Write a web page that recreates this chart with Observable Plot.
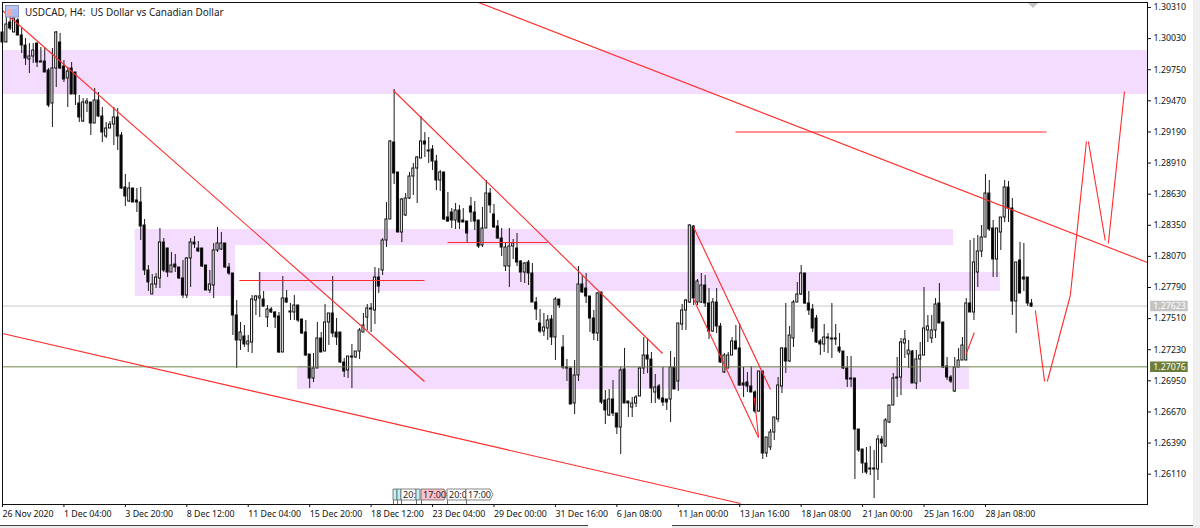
<!DOCTYPE html>
<html><head><meta charset="utf-8">
<script src="https://cdn.jsdelivr.net/npm/d3@7"></script>
<script src="https://cdn.jsdelivr.net/npm/@observablehq/plot@0.6"></script>
<style>
html,body{margin:0;padding:0;background:#fff;overflow:hidden}
#wrap{position:relative;width:1200px;height:528px;font-family:"Noto Sans",sans-serif}
#wrap svg.plot{display:block}
.title{position:absolute;left:25px;top:5px;font:9.95px "Noto Sans",sans-serif;color:#222;white-space:pre}
.ov{position:absolute;left:0;top:0;pointer-events:none}
</style></head><body><div id="wrap"></div>
<script>
// USDCAD H4 prices in 1/100000 units, one entry per bar
const highs=[130175,130220,130211,130211,130211,130121,130031,129986,129986,129986,129950,129950,129761,129941,130094,130076,129833,129770,129815,129725,129518,129491,129491,129455,129581,129545,129410,129275,129284,129410,129401,129185,128807,128735,128681,128681,128690,128402,127988,127907,127916,128321,128231,128141,128105,128087,127970,128033,128060,128231,128249,128204,128141,127988,127943,128186,128330,128285,128186,128006,127916,127673,127475,127448,127358,127718,127718,127925,127754,127628,127610,127574,127565,127889,127763,127646,127718,127628,127502,127493,127187,127196,127475,127385,127637,127556,127889,127511,127385,127151,127169,127277,127214,127421,127556,127637,127646,127970,127961,128231,128555,129113,129572,128825,128591,128636,128825,128906,128969,129329,129185,129140,129068,128978,128843,128825,128645,128501,128546,128528,128501,128384,128600,128564,128393,128510,128753,128681,128537,128393,128321,128186,128321,128222,128276,128033,128015,128033,128006,127700,127592,127556,127538,127538,127700,127682,127358,127142,127061,127133,127979,127898,127916,127709,127583,127745,127745,126863,126872,126953,126656,127070,127241,126764,126800,126818,127070,127340,127331,127205,127007,126917,127070,126782,127214,127160,127466,127637,127682,128357,128348,127862,127916,127898,127781,127691,127781,127466,127196,127205,127340,127448,127466,127070,127025,127079,126863,127034,127034,126440,126512,126620,126980,127250,127646,127439,127673,127835,127988,127916,127754,127637,127538,127322,127457,127376,127646,127457,127376,127214,127169,127169,126971,126512,126332,126350,126359,126323,126458,126449,126611,126728,127016,127160,127331,127403,127313,127223,127223,127295,127790,127538,127538,127691,127826,127475,127160,126998,127160,127241,127340,127691,128213,128231,128258,128348,128807,128753,128393,128321,128420,128753,128744,128591,128015,128195,128186,127880,127682];
const lows=[129995,129995,130103,130085,130058,129896,129788,129716,129806,129770,129815,129725,129410,129230,129590,129752,129635,129410,129527,129428,129275,129275,129365,129158,129266,129320,129095,129131,129221,129068,129023,128672,128519,128555,128555,128465,128213,127898,127754,127727,127781,127781,127925,127880,127925,127925,127862,127691,127691,127790,128141,128105,127970,127763,127736,127691,128105,128123,127961,127898,127358,127061,127223,127250,127205,127196,127538,127520,127610,127430,127556,127421,127196,127205,127646,127493,127493,127475,127367,127169,126881,126935,127061,127205,127214,127268,127340,127268,127106,126980,126971,126881,127151,127142,127385,127403,127385,127457,127736,127898,128150,128402,128717,128285,128195,128429,128582,128618,128546,128951,128960,128906,128843,128663,128654,128393,128375,128321,128312,128312,128375,128195,128375,128303,128141,128150,128321,128456,128321,128222,128069,127934,127790,128042,127979,127835,127826,127808,127655,127493,127376,127349,127313,127268,127133,127601,127052,126944,126737,126647,126944,127736,127646,127385,127313,127304,126737,126557,126629,126629,126467,126287,126746,126620,126620,126710,126809,127007,127016,126746,126746,126773,126719,126683,126575,126872,126854,127403,127403,127646,127628,127628,127646,127610,127322,127385,127376,127106,127016,127061,127178,127232,126899,126800,126845,126845,126656,126665,126242,126260,126323,126413,126575,126836,127016,127115,127250,127655,127718,127637,127538,127385,127286,127178,127205,127196,127151,127268,127196,127052,126890,126890,126062,126305,126116,126107,126098,125891,126053,126206,126350,126566,126728,126800,126818,127151,127061,126926,126872,126935,127178,127295,127286,127331,127466,127061,126953,126926,126845,127070,127133,127133,127565,127493,127790,128060,128240,128294,127880,127880,128123,128375,128375,127538,127376,127736,127754,127619,127610];
const opens=[130085,129995,130175,130085,130193,130058,129968,129842,129869,129986,129824,129824,129743,129446,129761,129995,129779,129671,129761,129725,129446,129284,129446,129455,129266,129473,129329,129149,129221,129257,129320,129158,128690,128564,128681,128573,128555,128348,127943,127727,127817,127871,128195,128141,127925,127997,127970,127871,127718,128051,128195,128141,128141,127988,127763,127808,128123,128132,128186,127970,127916,127538,127313,127349,127277,127295,127673,127691,127682,127520,127592,127565,127529,127205,127691,127574,127565,127628,127502,127385,127187,126971,127061,127331,127214,127475,127556,127385,127385,127115,127043,127160,127160,127214,127385,127520,127601,127583,127880,127943,128213,128402,129095,128825,128285,128438,128591,128789,128861,128951,129104,129023,129032,128924,128753,128825,128420,128465,128393,128483,128393,128384,128519,128465,128393,128168,128321,128636,128447,128339,128231,127979,127979,128159,128141,128024,127925,128015,127916,127655,127466,127394,127421,127502,127340,127682,127250,127070,127061,126746,126998,127817,127781,127709,127511,127376,127745,126773,126638,126782,126656,126530,127052,126764,126710,126746,126809,127061,127178,127142,126845,126899,126791,126782,126782,127070,126944,127457,127583,127655,128339,127655,127655,127808,127646,127394,127655,127439,127025,127061,127178,127304,127241,126926,126935,126899,126845,126674,127034,126296,126350,126485,126602,126899,127241,127124,127331,127655,127727,127916,127646,127592,127511,127304,127277,127340,127331,127331,127250,127214,127061,126971,126971,126512,126332,126206,126161,126152,126152,126422,126359,126575,126728,126971,126980,127286,127187,127214,126926,127142,127178,127403,127331,127403,127646,127475,127079,126980,126854,127070,127133,127133,127646,127565,127925,128114,128240,128636,128321,128042,128285,128420,128690,128501,127664,128033,127880,127880,127646];
const closes=[129995,130157,130121,130211,130058,129968,129851,129869,129923,129815,129815,129725,129428,129761,130085,129761,129662,129734,129527,129527,129320,129455,129464,129266,129473,129329,129185,129221,129257,129320,129149,128681,128609,128681,128555,128555,128339,127943,127835,127817,127880,128195,127943,127925,127988,127970,127871,127718,128051,128195,128177,128114,127979,127763,127817,128123,128186,128186,127970,127916,127538,127313,127385,127277,127304,127682,127709,127709,127619,127592,127565,127520,127205,127691,127655,127565,127628,127493,127376,127178,126971,127061,127331,127205,127475,127556,127376,127340,127115,127034,127169,127169,127214,127403,127448,127601,127592,127880,127799,128213,128402,129104,128816,128285,128582,128591,128789,128861,128960,129104,129077,129014,128924,128753,128825,128402,128384,128393,128483,128375,128375,128276,128465,128384,128159,128321,128636,128528,128330,128231,128150,128150,128159,128186,128015,127925,128006,127916,127655,127592,127394,127430,127493,127340,127682,127628,127070,127061,126737,126998,127817,127745,127709,127511,127376,127736,126755,126683,126782,126656,126530,127043,126746,126746,126746,126800,127061,127178,127142,126881,126890,126791,126755,126755,127070,126872,127466,127583,127673,128348,127691,127844,127808,127646,127394,127655,127439,127115,127178,127178,127304,127232,126908,126908,126899,126845,126674,127034,126296,126440,126485,126620,126908,127241,127124,127358,127655,127727,127916,127646,127583,127421,127295,127277,127340,127331,127322,127322,127214,127061,126962,126962,126512,126323,126206,126125,126152,126161,126422,126386,126593,126728,126971,126980,127295,127322,127223,126926,127142,127178,127421,127439,127403,127637,127466,127070,126980,126944,127070,127133,127268,127646,127565,128015,128114,128240,128636,128312,128042,128321,128420,128690,128501,127664,128015,127736,127862,127646,127619];

const priceTicks=[1.3031,1.3003,1.2975,1.2947,1.2919,1.2891,1.2863,1.2835,1.2807,1.2779,1.2751,1.2723,1.2695,1.2667,1.2639,1.2611];
const timeLabels=["26 Nov 2020","1 Dec 04:00","3 Dec 20:00","8 Dec 12:00","11 Dec 04:00","15 Dec 20:00","18 Dec 12:00","23 Dec 04:00","29 Dec 00:00","31 Dec 16:00","6 Jan 08:00","11 Jan 00:00","13 Jan 16:00","18 Jan 08:00","21 Jan 00:00","25 Jan 16:00","28 Jan 08:00"];
const barsPerLabel=16;
const bidPrice=1.27623, levelPrice=1.27076;

// supply/demand zones: first bar, last bar, upper price, lower price
const zones=[
 [0,298.2,129923,129527],
 [34.6,247.7,128312,128168],
 [34.6,60.7,128312,127709],
 [66.7,259.9,127925,127754],
 [76.8,251.8,127079,126872]
];
// drawn trend lines: bar, price, bar, price
const trendLines=[
 [0,130283,109.9,126944],
 [0,127376,192.2,125846],
 [124,130355,298.2,128015],
 [61.7,127853,109.9,127853],
 [101.8,129563,171.9,127196],
 [115.9,128195,141.9,128195],
 [190.9,129190,271.9,129190],
 [179.9,128339,200,126872],
 [179.9,127691,196.9,126440],
 [195.8,126800,196.9,126440],
 [251,127196,253.1,127385],
 [269,127583,271.4,126944],
 [272.1,126944,278.1,127718],
 [278.1,127718,282.3,129104],
 [282.8,129104,287.2,128213],
 [288,128186,292.2,129554]
];

const bars=highs.map((h,i)=>({i,h:h/1e5,l:lows[i]/1e5,o:opens[i]/1e5,c:closes[i]/1e5}));
const segs=trendLines.map(([a,b,c,d])=>({a,b:b/1e5,c,d:d/1e5}));
const zs=zones.map(([a,b,t,u])=>({a,b,t:t/1e5,u:u/1e5}));
const fontF='"Noto Sans",sans-serif';
const half=0.27;

const chart=Plot.plot({
  width:1200,height:528,marginTop:2,marginBottom:24,marginLeft:2,marginRight:53,
  style:{background:"#fff",fontFamily:fontF,fontSize:"8.8px",color:"#111",overflow:"visible"},
  x:{domain:[0,298.2],axis:null},
  y:{domain:[1.25837,1.30355],axis:null},
  marks:[
    Plot.rect(zs,{x1:"a",x2:"b",y1:"t",y2:"u",fill:"#f3dcfd"}),
    Plot.ruleY([bidPrice],{stroke:"#c9c9c9",strokeWidth:1}),
    Plot.ruleX(bars,{x:"i",y1:"l",y2:"h",stroke:"#1a1a1a",strokeWidth:1}),
    Plot.rect(bars,{x1:d=>d.i-half,x2:d=>d.i+half,y1:d=>Math.min(d.o,d.c),y2:d=>Math.max(d.o,d.c),
      fill:d=>d.c>=d.o?"#fff":"#000",stroke:"#111",strokeWidth:1}),
    Plot.ruleY([levelPrice],{stroke:"#6f8246",strokeWidth:1}),
    Plot.link(segs,{x1:"a",y1:"b",x2:"c",y2:"d",stroke:"#ff2a2a",strokeWidth:1.1,curve:"linear"}),
    Plot.frame({stroke:"#111"}),
    Plot.axisY(priceTicks,{anchor:"right",tickSize:3,tickPadding:3,tickFormat:d=>d.toFixed(5),textAnchor:"start",stroke:"#111"}),
    Plot.axisX(timeLabels.map((_,k)=>k*barsPerLabel),{anchor:"bottom",tickSize:3,tickPadding:3,
      tickFormat:d=>timeLabels[d/barsPerLabel],textAnchor:"start",stroke:"#111",label:null}),
    Plot.ruleY([bidPrice],{x1:299,x2:308.8,stroke:"#c4c4c4",strokeWidth:10.5}),
    Plot.ruleY([levelPrice],{x1:299,x2:308.8,stroke:"#6b7d3a",strokeWidth:10.5}),
    Plot.text([bidPrice,levelPrice],{x:299.7,y:d=>d,text:d=>d.toFixed(5),textAnchor:"start",fill:"#fff"})
  ]
});
const wrap=document.getElementById("wrap");
wrap.appendChild(chart);

// terminal furniture around the chart
const tags=[
 {x:393,w:4,t:"",f:"#bdf0f4"},{x:397,w:4,t:"",f:"#bdf0f4"},
 {x:401,w:15,t:"20:",f:"#fff"},{x:416,w:4,t:"",f:"#bdf0f4"},
 {x:421,w:26,t:"17:00",f:"#ffc0c8",p:1},{x:447,w:19,t:"20:0",f:"#fff"},{x:466,w:27,t:"17:00",f:"#fff",p:1}
];
const ns="http://www.w3.org/2000/svg";
const ov=document.createElementNS(ns,"svg");
ov.setAttribute("class","ov");ov.setAttribute("width",1200);ov.setAttribute("height",528);
function add(n,a,txt){const e=document.createElementNS(ns,n);for(const k in a)e.setAttribute(k,a[k]);if(txt)e.textContent=txt;ov.appendChild(e);return e}
tags.forEach(g=>{
  const r=g.x+g.w,pts=g.p?`${g.x},489 ${r-3},489 ${r},494.5 ${r-3},500 ${g.x},500`:`${g.x},489 ${r},489 ${r},500 ${g.x},500`;
  add("polygon",{points:pts,fill:g.f,stroke:"#555","stroke-width":0.7});
  add("line",{x1:g.x+.5,x2:g.x+.5,y1:500,y2:504,stroke:"#333","stroke-width":.7});
  if(g.t)add("text",{x:g.x+2,y:498,"font-size":"9px","font-family":fontF,fill:"#222"},g.t);
});
add("polygon",{points:"1028,3 1038,3 1033,8",fill:"#c4c4c4"});
// window icon
add("rect",{x:5.5,y:5.5,width:13,height:11.5,fill:"#b9c4f0",stroke:"#8a93c8","stroke-width":1});
add("rect",{x:7,y:9,width:5,height:7,fill:"#f0a8a8"});
add("rect",{x:12.5,y:9,width:5,height:7,fill:"#a8b8f0"});
// right and bottom window edges
add("rect",{x:1193,y:0,width:7,height:528,fill:"#f0f0f0"});
add("rect",{x:0,y:525,width:1200,height:3,fill:"#ececec"});
add("line",{x1:0,x2:588,y1:525.5,y2:525.5,stroke:"#444"});
add("line",{x1:672,x2:1193,y1:525.5,y2:525.5,stroke:"#444"});
add("rect",{x:588,y:525,width:84,height:3,fill:"#fff"});
wrap.appendChild(ov);
const t=document.createElement("div");t.className="title";t.textContent="USDCAD, H4:  US Dollar vs Canadian Dollar";wrap.appendChild(t);
</script></body></html>
